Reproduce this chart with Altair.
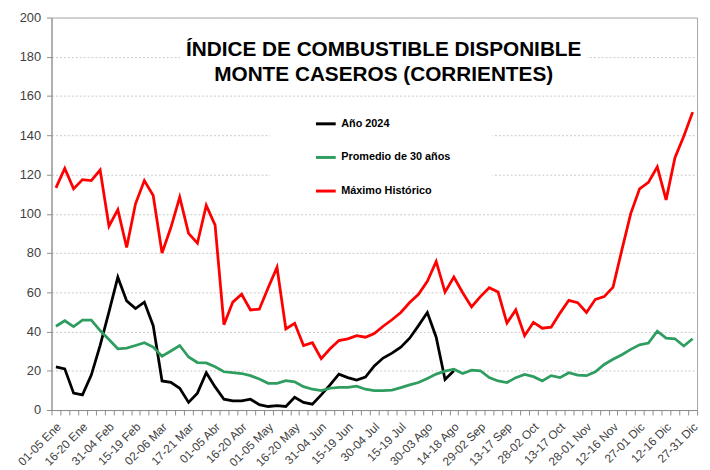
import altair as alt
import pandas as pd

# ---- data -------------------------------------------------------------
tick_labels = ["01-05 Ene", "16-20 Ene", "31-04 Feb", "15-19 Feb", "02-06 Mar",
               "17-21 Mar", "01-05 Abr", "16-20 Abr", "01-05 May", "16-20 May",
               "31-04 Jun", "15-19 Jun", "30-04 Jul", "15-19 Jul", "30-03 Ago",
               "14-18 Ago", "29-02 Sep", "13-17 Sep", "28-02 Oct", "13-17 Oct",
               "28-01 Nov", "12-16 Nov", "27-01 Dic", "12-16 Dic", "27-31 Dic"]
label_step = 3
n_periods = 73

anio_2024 = [22, 21, 8.6, 7.7, 17.8, 33, 50, 67.7, 55.6, 51.7,
             55, 43, 14.8, 14.1, 11.1, 3.9, 8.6, 19, 11.8, 5.5,
             4.7, 4.7, 5.5, 2.7, 1.8, 2.2, 1.8, 6.5, 3.9, 3,
             7.7, 12.8, 18.3, 16.5, 15.3, 16.8, 22.5, 26.5, 29, 32,
             36.6, 43, 49.7, 37.1, 15.6, 20]

promedio_30 = [42.7, 45.5, 42.5, 45.8, 45.8, 40.5, 35.9, 31.2, 31.6, 32.9,
               34.3, 32.1, 27.4, 30.1, 32.9, 27, 24.2, 24.0, 22, 19.5,
               19.1, 18.6, 17.5, 15.8, 13.6, 13.6, 15, 14.4, 11.9, 10.6,
               9.9, 11.1, 11.6, 11.6, 12.2, 10.6, 9.9, 9.9, 10.2, 11.4,
               12.8, 14, 16.1, 18.3, 19.8, 20.8, 18.6, 20.3, 20, 16.5,
               14.8, 14, 16.5, 18.1, 17, 14.8, 17.5, 16.5, 19, 17.8,
               17.5, 19.5, 23.2, 25.9, 28.2, 30.9, 33.2, 34.1, 40.2, 36.6,
               36.3, 32.6, 36.3]

maximo_hist = [113.2, 123.1, 112.7, 117.4, 116.9, 122.3, 93.7, 102.1, 82.8, 105.1,
               116.9, 109.3, 80, 93, 108.5, 90, 85, 104.3, 94.2, 43.5,
               55, 59, 51, 51.4, 62.3, 72.7, 41.3, 44.2, 32.9, 34.3,
               26.2, 31.2, 35.4, 36.3, 37.9, 37.1, 39, 42.7, 46, 49.7,
               54.8, 59, 65.6, 75.7, 60.1, 67.8, 59.8, 52.5, 57.8, 62.3,
               60.1, 44.3, 51, 37.9, 44.7, 41.7, 42.2, 49.4, 55.9, 54.7,
               49.7, 56.4, 57.8, 62.6, 81.6, 100.1, 112.7, 116, 123.9, 107.1,
               128.6, 139.5, 151.8]

series_names = ["Año 2024", "Promedio de 30 años", "Máximo Histórico"]
series_colors = ["#000000", "#2f9d60", "#ff0000"]
title_lines = ["ÍNDICE DE COMBUSTIBLE DISPONIBLE", "MONTE CASEROS (CORRIENTES)"]

rows = []
for name, vals in zip(series_names, [anio_2024, promedio_30, maximo_hist]):
    for i, v in enumerate(vals):
        rows.append({"periodo": i, "valor": v, "serie": name})
df = pd.DataFrame(rows)

# labels indexed by band boundary (tick) position
lab_arr = [""] * (n_periods + 1)
for k, t in enumerate(tick_labels):
    lab_arr[k * label_step] = t
label_expr = "[" + ",".join("'" + s + "'" for s in lab_arr) + "][round(datum.value + 0.5)]"

W, H = 653, 397
band = W / n_periods
FONT = "Liberation Sans"
AXIS_GREY = "#8c8c8c"

x_enc = alt.X(
    "periodo:Q",
    scale=alt.Scale(domain=[-0.5, n_periods - 0.5], nice=False, zero=False),
    axis=alt.Axis(
        values=[i - 0.5 for i in range(n_periods + 1)],
        labelExpr=label_expr,
        labelAngle=-45,
        labelOffset=band / 2 - 1,
        labelOverlap=False,
        labelFlush=False,
        labelBound=False,
        grid=False,
        tickSize=5,
        tickColor=AXIS_GREY,
        domainColor=AXIS_GREY,
        labelFontSize=12,
        labelColor="#404040",
        labelPadding=6,
        title=None,
    ),
)

y_enc = alt.Y(
    "valor:Q",
    scale=alt.Scale(domain=[0, 200], nice=False),
    axis=alt.Axis(
        values=list(range(0, 201, 20)),
        grid=True,
        gridDash=[2, 2],
        gridColor="#c8c8c8",
        tickSize=5,
        tickColor=AXIS_GREY,
        domainColor=AXIS_GREY,
        labelFontSize=13,
        labelColor="#404040",
        labelPadding=6,
        title=None,
    ),
)

lines = alt.Chart(df).mark_line(strokeWidth=2.8).encode(
    x=x_enc,
    y=y_enc,
    color=alt.Color(
        "serie:N",
        scale=alt.Scale(domain=series_names, range=series_colors),
        legend=alt.Legend(
            orient="none",
            legendX=256,
            legendY=86,
            title=None,
            symbolType="stroke",
            symbolStrokeWidth=3,
            symbolSize=400,
            labelFont=FONT,
            labelFontSize=11,
            labelFontWeight="bold",
            labelColor="#000000",
            labelOffset=4,
            labelLimit=300,
            rowPadding=16,
            padding=10,
            fillColor="white",
            direction="vertical",
        ),
    ),
)

one = pd.DataFrame({"a": [0]})
title_bg = alt.Chart(one).mark_rect(color="white").encode(
    x=alt.value(130), x2=alt.value(542), y=alt.value(24), y2=alt.value(74)
)
legend_bg = alt.Chart(one).mark_rect(color="white").encode(
    x=alt.value(221), x2=alt.value(446), y=alt.value(86), y2=alt.value(194)
)
title_txt = alt.Chart(one).mark_text(
    font=FONT, fontSize=21, fontWeight="bold", align="center",
    baseline="alphabetic", lineHeight=25, color="#000000"
).encode(x=alt.value(336), y=alt.value(39), text=alt.value(title_lines))

chart = alt.layer(title_bg, legend_bg, lines, title_txt).properties(
    width=W,
    height=H,
    autosize=alt.AutoSizeParams(type="none"),
    padding={"left": 44, "top": 7, "right": 5, "bottom": 58},
).configure(font=FONT).configure_view(stroke="#a6a6a6")

chart.save("out.html", embed_options={"renderer": "svg", "actions": False})
